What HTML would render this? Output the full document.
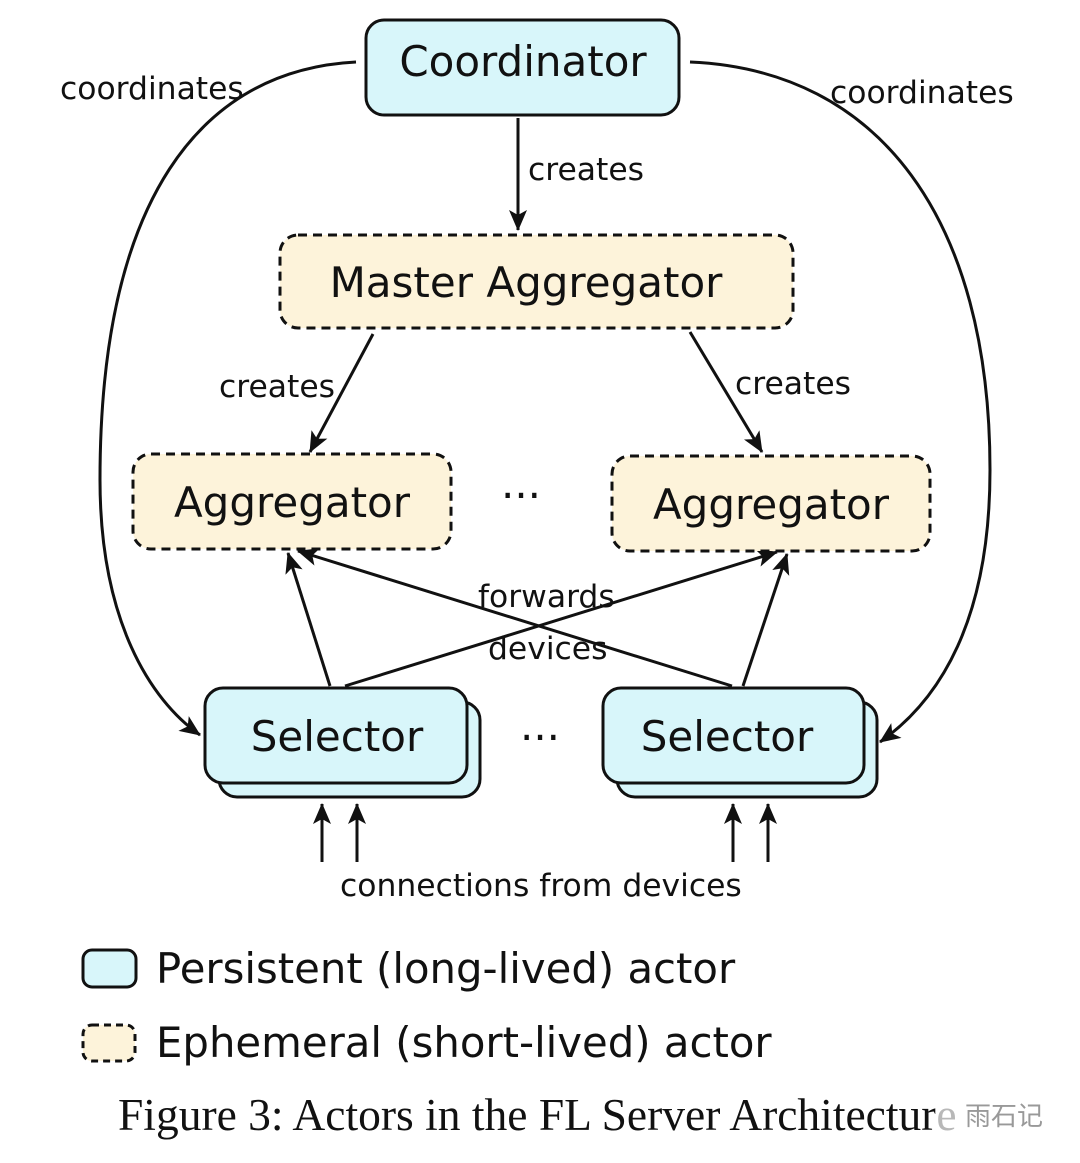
<!DOCTYPE html>
<html><head><meta charset="utf-8"><style>
html,body{margin:0;padding:0;background:#fff;}
svg{display:block;}
text{font-family:"DejaVu Sans","Liberation Sans",sans-serif;fill:#111;}
</style></head><body>
<svg width="1080" height="1163" viewBox="0 0 1080 1163" xmlns="http://www.w3.org/2000/svg">
<defs>
<marker id="b" markerWidth="22" markerHeight="20" refX="20" refY="9" orient="auto" markerUnits="userSpaceOnUse"><path d="M0,0 L21,9 L0,18 L5,9 Z" fill="#111"/></marker>
</defs>
<g stroke="#111" stroke-width="3" fill="none">
<path d="M356,62 C200,70 100,200 100,480 C100,620 150,700 200,735" marker-end="url(#b)"/>
<path d="M690,62 C880,70 990,220 990,470 C990,620 940,700 880,742" marker-end="url(#b)"/>
<line x1="518" y1="118" x2="518" y2="230" marker-end="url(#b)"/>
<line x1="373" y1="334" x2="310" y2="452" marker-end="url(#b)"/>
<line x1="690" y1="332" x2="762" y2="452" marker-end="url(#b)"/>
<line x1="330" y1="686" x2="288" y2="553" marker-end="url(#b)"/>
<line x1="345" y1="686" x2="777" y2="552" marker-end="url(#b)"/>
<line x1="732" y1="686" x2="298" y2="551" marker-end="url(#b)"/>
<line x1="743" y1="686" x2="787" y2="554" marker-end="url(#b)"/>
<line x1="322" y1="862" x2="322" y2="804" marker-end="url(#b)"/>
<line x1="357" y1="862" x2="357" y2="804" marker-end="url(#b)"/>
<line x1="733" y1="862" x2="733" y2="804" marker-end="url(#b)"/>
<line x1="768" y1="862" x2="768" y2="804" marker-end="url(#b)"/>
</g>
<g stroke="#111" stroke-width="3">
<rect x="366" y="20" width="313" height="95" rx="18" fill="#d8f6fa"/>
<rect x="280" y="235" width="513" height="93" rx="18" fill="#fdf3da" stroke-dasharray="9,6"/>
<rect x="133" y="454" width="318" height="95" rx="18" fill="#fdf3da" stroke-dasharray="9,6"/>
<rect x="612" y="456" width="318" height="95" rx="18" fill="#fdf3da" stroke-dasharray="9,6"/>
<rect x="219" y="702" width="261" height="95" rx="18" fill="#d8f6fa"/>
<rect x="205" y="688" width="262" height="95" rx="18" fill="#d8f6fa"/>
<rect x="617" y="702" width="260" height="95" rx="18" fill="#d8f6fa"/>
<rect x="603" y="688" width="261" height="95" rx="18" fill="#d8f6fa"/>
<rect x="83" y="950" width="53" height="37" rx="9" fill="#d8f6fa"/>
<rect x="83" y="1025" width="52" height="36" rx="9" fill="#fdf3da" stroke-dasharray="7,5"/>
</g>
<g font-size="42" text-anchor="middle">
<text x="523" y="76">Coordinator</text>
<text x="526" y="297">Master Aggregator</text>
<text x="292" y="517">Aggregator</text>
<text x="771" y="519">Aggregator</text>
<text x="337" y="751">Selector</text>
<text x="727" y="751">Selector</text>
<text x="521" y="510">···</text>
<text x="540" y="752">···</text>
</g>
<g font-size="31.4">
<text x="60" y="99">coordinates</text>
<text x="830" y="103">coordinates</text>
<text x="528" y="180">creates</text>
<text x="219" y="397">creates</text>
<text x="735" y="394">creates</text>
<text x="478" y="607">forwards</text>
<text x="488" y="659">devices</text>
<text x="340" y="896">connections from devices</text>
</g>
<g font-size="41.8">
<text x="156" y="983">Persistent (long-lived) actor</text>
<text x="156" y="1057">Ephemeral (short-lived) actor</text>
</g>
<text x="118" y="1130" font-size="45.5" style="font-family:'Liberation Serif',serif">Figure 3: Actors in the FL Server Architecture</text>
<rect x="935" y="1098" width="115" height="42" fill="#fff" opacity="0.7"/>
<text x="965" y="1125" font-size="26" style="font-family:'Liberation Sans','Noto Sans CJK SC',sans-serif;fill:#999">雨石记</text>
</svg>
</body></html>
